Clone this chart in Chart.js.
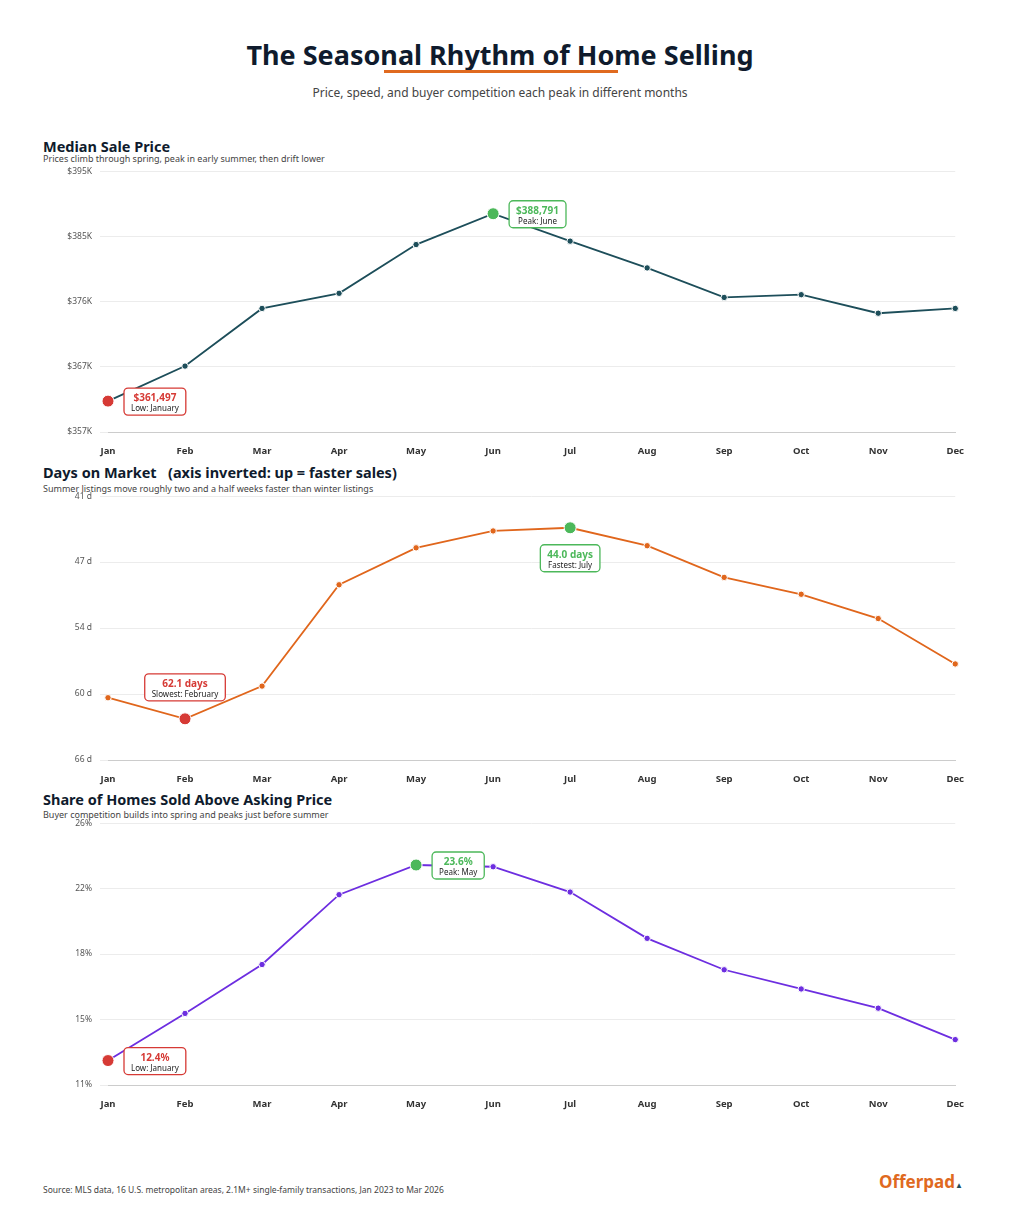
<!DOCTYPE html>
<html><head><meta charset="utf-8">
<script src="https://cdn.jsdelivr.net/npm/chart.js@4"></script>
<style>
body{margin:0;background:#fff;font-family:"Noto Sans","Open Sans",sans-serif;}
#wrap{position:relative;width:1024px;height:1212px;}
.abs{position:absolute;}
h1{position:absolute;top:36px;left:0;width:1000px;text-align:center;margin:0;font-size:27px;font-weight:700;color:#0f1b2d;}
.ul{position:absolute;top:70px;left:384px;width:234px;height:3px;background:#e06a1f;}
.sub{top:84px;left:0;width:1000px;text-align:center;font-size:12px;color:#444;}
.pt{left:43px;font-size:14.5px;font-weight:700;color:#0f1b2d;}
.ps{left:43px;font-size:9px;color:#444;}
canvas{position:absolute;}
</style></head><body><div id="wrap">
<h1>The Seasonal Rhythm of Home Selling</h1><div class="ul"></div>
<div class="abs sub">Price, speed, and buyer competition each peak in different months</div>
<div class="abs pt" style="top:136px">Median Sale Price</div>
<div class="abs ps" style="top:152px">Prices climb through spring, peak in early summer, then drift lower</div>
<div class="abs pt" style="top:462px">Days on Market &nbsp;&nbsp;(axis inverted: up = faster sales)</div>
<div class="abs ps" style="top:482px">Summer listings move roughly two and a half weeks faster than winter listings</div>
<div class="abs pt" style="top:789px">Share of Homes Sold Above Asking Price</div>
<div class="abs ps" style="top:808px">Buyer competition builds into spring and peaks just before summer</div>
<canvas id="c1" style="left:40px;top:158px" width="930" height="302"></canvas>
<canvas id="c2" style="left:40px;top:483px" width="930" height="305"></canvas>
<canvas id="c3" style="left:40px;top:810px" width="930" height="303"></canvas>
<div class="abs" style="top:1184px;left:43px;font-size:8.5px;color:#444">Source: MLS data, 16 U.S. metropolitan areas, 2.1M+ single-family transactions, Jan 2023 to Mar 2026</div>
<div class="abs" style="top:1170px;left:879px;font-size:17px;font-weight:700;color:#e06a1f">Offerpad<span style="color:#1d4e5a;font-size:8px">&#9650;</span></div>
</div>
<script>
const months=["Jan","Feb","Mar","Apr","May","Jun","Jul","Aug","Sep","Oct","Nov","Dec"];
const priceK=[361.497,366.6,375.0,377.2,384.3,388.791,384.8,380.9,376.6,377.0,374.3,375.0];
const daysOnMarket=[60.1,62.1,59.0,49.4,45.9,44.3,44.0,45.7,48.7,50.3,52.6,56.9];
const shareAbove=[12.4,15.1,17.9,21.9,23.6,23.5,22.05,19.4,17.6,16.5,15.4,13.6];
const priceTicks=["$357K","$367K","$376K","$385K","$395K"];
const dayTicks=["41 d","47 d","54 d","60 d","66 d"];
const shareTicks=["11%","15%","18%","22%","26%"];
const RED="#d63a35",GREEN="#4cb85a";
function rr(ctx,x,y,w,h,r){ctx.beginPath();ctx.moveTo(x+r,y);ctx.arcTo(x+w,y,x+w,y+h,r);ctx.arcTo(x+w,y+h,x,y+h,r);ctx.arcTo(x,y+h,x,y,r);ctx.arcTo(x,y,x+w,y,r);ctx.closePath();}
const notePlugin={id:'notes',afterDatasetsDraw(chart){
 const ctx=chart.ctx;const notes=chart.options.plugins.notes.list;
 const meta=chart.getDatasetMeta(0);
 notes.forEach(n=>{const p=meta.data[n.i];const c=n.color;
  ctx.save();ctx.font="bold 10px 'Noto Sans'";const w1=ctx.measureText(n.t).width;
  ctx.font="8px 'Noto Sans'";const w2=ctx.measureText(n.s).width;
  const w=Math.max(w1,w2)+14,h=27;let x,y;
  if(n.pos==='right'){x=p.x+16;y=p.y-13;}else if(n.pos==='above'){x=p.x-w/2;y=p.y-45;}else{x=p.x-w/2;y=p.y+17;}
  rr(ctx,x,y,w,h,4);ctx.fillStyle="#fff";ctx.fill();ctx.lineWidth=1.3;ctx.strokeStyle=c;ctx.stroke();
  ctx.textAlign="center";ctx.textBaseline="alphabetic";
  ctx.fillStyle=c;ctx.font="bold 10px 'Noto Sans'";ctx.fillText(n.t,x+w/2,y+13);
  ctx.fillStyle="#222";ctx.font="8px 'Noto Sans'";ctx.fillText(n.s,x+w/2,y+23);
  ctx.restore();});
}};
function make(id,data,color,min,max,ticks,rev,hi,notes){
 const n=ticks.length-1,step=(max-min)/n;
 const radii=data.map((v,i)=>hi[i]?6:3.2);
 const bg=data.map((v,i)=>hi[i]||color);
 new Chart(document.getElementById(id),{type:'line',plugins:[notePlugin],
 data:{labels:months,datasets:[{data,borderColor:color,borderWidth:1.8,pointRadius:radii,pointBackgroundColor:bg,pointBorderColor:"#fff",pointBorderWidth:1,tension:0}]},
 options:{responsive:false,animation:false,layout:{padding:{top:10,right:13}},
  plugins:{legend:{display:false},tooltip:{enabled:false},notes:{list:notes}},
  scales:{x:{offset:false,grid:{display:false},border:{color:"#ccc"},afterFit:s=>{s.height=28;},
     ticks:{color:"#333",font:{size:9.5,weight:'bold',family:"Noto Sans"},maxRotation:0,padding:6}},
   y:{min,max,reverse:rev,afterFit:s=>{s.width=68;},border:{display:false},grid:{color:"#ececec"},
     afterBuildTicks:s=>{s.ticks=ticks.map((t,i)=>({value:min+i*step}));},
     ticks:{color:"#555",font:{size:8.5,family:"Noto Sans"},padding:8,callback:(v,i)=>ticks[i]}}}}});
}
const h1=priceK.map((v,i)=>i===0?RED:i===5?GREEN:null);
make('c1',priceK,"#1d4e5a",357,395,priceTicks,false,h1,[{i:0,pos:'right',t:"$361,497",s:"Low: January",color:RED},{i:5,pos:'right',t:"$388,791",s:"Peak: June",color:GREEN}]);
const h2=daysOnMarket.map((v,i)=>i===1?RED:i===6?GREEN:null);
make('c2',daysOnMarket,"#e0661c",41,66,dayTicks,true,h2,[{i:1,pos:'above',t:"62.1 days",s:"Slowest: February",color:RED},{i:6,pos:'below',t:"44.0 days",s:"Fastest: July",color:GREEN}]);
const h3=shareAbove.map((v,i)=>i===0?RED:i===4?GREEN:null);
make('c3',shareAbove,"#6d2ee0",11,26,shareTicks,false,h3,[{i:0,pos:'right',t:"12.4%",s:"Low: January",color:RED},{i:4,pos:'right',t:"23.6%",s:"Peak: May",color:GREEN}]);
</script></body></html>
